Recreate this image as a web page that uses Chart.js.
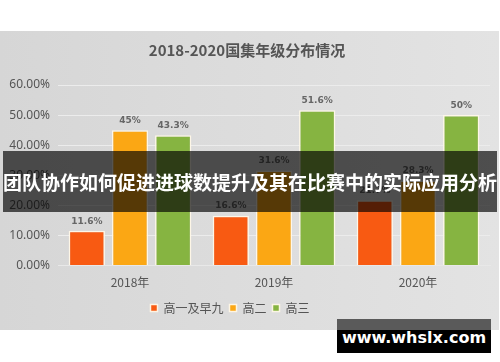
<!DOCTYPE html>
<html>
<head>
<meta charset="utf-8">
<script src="https://cdn.jsdelivr.net/npm/chart.js@4/dist/chart.umd.min.js"></script>
<style>
    body { margin: 0; width: 500px; height: 362px; background: #fff; position: relative; overflow: hidden; font-family: 'Noto Sans CJK SC', 'Noto Sans', sans-serif; }
    .panel { position: absolute; left: 0; top: 31px; width: 499px; height: 299px; background: linear-gradient(to right, #d6d6d6, #e3e3e3); }
    .banner { position: absolute; left: 3px; top: 151px; width: 494px; height: 61px; background: rgba(0,0,0,0.66); color: #fff; font-weight: bold; font-size: 19px; line-height: 61px; text-align: center; white-space: nowrap; letter-spacing: 0; }
    .mark { position: absolute; left: 337px; top: 319px; width: 154px; height: 34px; background: linear-gradient(to bottom, #5a5a5a 0, #5a5a5a 11px, #000 11px); color: #fff; font-family: 'DejaVu Sans', sans-serif; font-weight: bold; font-size: 16px; line-height: 38px; text-align: center; }
</style>
</head>
<body>
<div class="panel"><canvas id="gradeChart" width="499" height="299"></canvas></div>
<div class="banner">团队协作如何促进进球数提升及其在比赛中的实际应用分析</div>
<div class="mark">www.whslx.com</div>
<script>
const years = ['2018年', '2019年', '2020年'];
const seriesNames = ['高一及早九', '高二', '高三'];
const juniorValues = [11.6, 16.6, 21.7];
const grade2Values = [45, 31.6, 28.3];
const grade3Values = [43.3, 51.6, 50];
const seriesColors = ['#f85a12', '#fba714', '#86b441'];

const cjk = "'Noto Sans CJK SC', 'Noto Sans', sans-serif";

// value labels above each bar
const barLabels = {
    id: 'barLabels',
    afterDatasetsDraw(chart) {
        const ctx = chart.ctx;
        ctx.save();
        ctx.font = 'bold 9px "DejaVu Sans", sans-serif';
        ctx.fillStyle = '#666';
        ctx.textAlign = 'center';
        ctx.textBaseline = 'bottom';
        chart.data.datasets.forEach((ds, i) => {
            chart.getDatasetMeta(i).data.forEach((bar, j) => {
                ctx.fillText(ds.data[j] + '%', bar.x, bar.y - 5);
            });
        });
        ctx.restore();
    }
};

// legend sits a bit left of centre in the original
const legendShift = {
    id: 'legendShift',
    afterLayout(chart) {
        chart.legend.left -= 17;
        chart.legend.right -= 17;
    }
};

const ctx = document.getElementById('gradeChart');
new Chart(ctx.getContext('2d'), {
    type: 'bar',
    data: {
        labels: years,
        datasets: [juniorValues, grade2Values, grade3Values].map((vals, i) => ({
            label: seriesNames[i],
            data: vals,
            backgroundColor: seriesColors[i],
            borderColor: 'rgba(255,248,232,0.95)',
            borderWidth: 1.5,
            categoryPercentage: 0.9,
            barPercentage: 0.84
        }))
    },
    options: {
        responsive: false,
        animation: false,
        layout: { padding: { left: 4, right: 9, top: 0, bottom: 6 } },
        plugins: {
            title: {
                display: true,
                text: '2018-2020国集年级分布情况',
                color: '#555',
                font: { family: cjk, size: 15, weight: 'bold' },
                padding: { top: 10, bottom: 26 }
            },
            legend: {
                position: 'bottom',
                labels: {
                    boxWidth: 7,
                    boxHeight: 7,
                    padding: 6,
                    color: '#555',
                    font: { family: cjk, size: 12 }
                }
            },
            tooltip: { enabled: false }
        },
        scales: {
            y: {
                min: 0,
                max: 60,
                afterFit: scale => { scale.width = 54; },
                ticks: {
                    stepSize: 10,
                    color: '#555',
                    padding: 8,
                    font: { family: "'Noto Sans', sans-serif", size: 12 },
                    callback: v => v.toFixed(2) + '%'
                },
                grid: { color: '#ececec', lineWidth: 1, drawTicks: false },
                border: { display: false }
            },
            x: {
                afterFit: scale => { scale.height += 4; },
                ticks: {
                    color: '#555',
                    padding: 2,
                    font: { family: cjk, size: 12 }
                },
                grid: { display: false },
                border: { color: '#e8e8e8' }
            }
        }
    },
    plugins: [barLabels, legendShift]
});
</script>
</body>
</html>
